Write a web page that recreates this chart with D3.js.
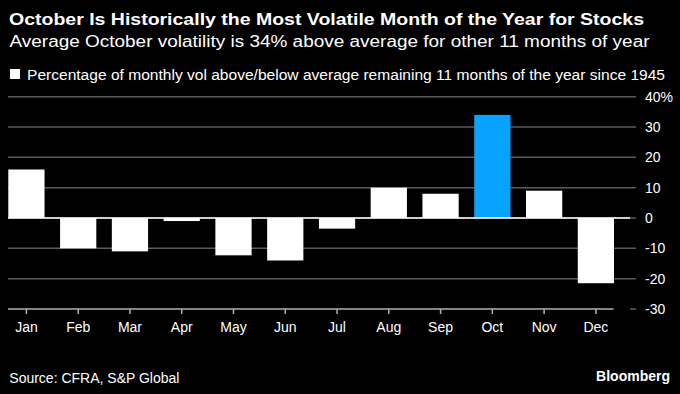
<!DOCTYPE html>
<html>
<head>
    <script src="https://cdn.jsdelivr.net/npm/d3@7"></script>
</head>
<body style="margin:0px; background:#000;">
    <svg id="chart" width="680" height="394"></svg>
    <script>
        // chart data
        var months = ["Jan","Feb","Mar","Apr","May","Jun","Jul","Aug","Sep","Oct","Nov","Dec"];
        var volAboveAvg = [16, -10, -11, -1, -12.3, -14, -3.5, 10, 8, 34, 9, -21.5];
        var yTicks = [40, 30, 20, 10, 0, -10, -20, -30];
        var highlight = "Oct";

        var title = "October Is Historically the Most Volatile Month of the Year for Stocks";
        var subtitle = "Average October volatility is 34% above average for other 11 months of year";
        var legendText = "Percentage of monthly vol above/below average remaining 11 months of the year since 1945";
        var source = "Source: CFRA, S&P Global";

        var font = "'Liberation Sans', Arial, sans-serif";
        var svg = d3.select("#chart").style("font-family", font);

        svg.append("rect").attr("width", 680).attr("height", 394).attr("fill", "#000");

        // header texts
        svg.append("text").attr("x", 9).attr("y", 25).attr("fill", "#fff")
            .attr("font-size", 17).attr("font-weight", "bold")
            .attr("textLength", 635).attr("lengthAdjust", "spacingAndGlyphs").text(title);
        svg.append("text").attr("x", 9.5).attr("y", 47).attr("fill", "#fff")
            .attr("font-size", 16)
            .attr("textLength", 640).attr("lengthAdjust", "spacingAndGlyphs").text(subtitle);
        svg.append("rect").attr("x", 10).attr("y", 69).attr("width", 10).attr("height", 10).attr("fill", "#fff");
        svg.append("text").attr("x", 27).attr("y", 80).attr("fill", "#fff")
            .attr("font-size", 14)
            .attr("textLength", 638).attr("lengthAdjust", "spacingAndGlyphs").text(legendText);

        // scales
        var x = d3.scaleBand().domain(months).range([8.3, 614]).paddingInner(0.3).paddingOuter(0);
        var y = d3.scaleLinear().domain([-30, 40]).range([309, 96.7]);

        var gridLeft = 8, gridRight = 636, zeroRight = 630;

        // gridlines
        svg.append("g").selectAll("line")
            .data(yTicks)
            .enter()
            .append("line")
            .attr("x1", d => d == -30 ? zeroRight : gridLeft)
            .attr("x2", gridRight)
            .attr("y1", d => y(d))
            .attr("y2", d => y(d))
            .style("stroke", "#5a5a5a")
            .style("stroke-width", "1.5px");

        // y labels on the right
        svg.append("g").selectAll("text")
            .data(yTicks)
            .enter()
            .append("text")
            .attr("x", 645)
            .attr("y", d => y(d))
            .attr("dy", "0.36em")
            .attr("fill", "#fff")
            .attr("font-size", 14)
            .text(d => d == 40 ? d + "%" : d);

        // bars
        svg.append("g").selectAll("rect")
            .data(months)
            .enter()
            .append("rect")
            .attr("x", d => x(d))
            .attr("width", x.bandwidth())
            .attr("y", (d,i) => y(Math.max(0, volAboveAvg[i])))
            .attr("height", (d,i) => Math.abs(y(volAboveAvg[i]) - y(0)))
            .style("fill", d => d == highlight ? "#08a3ff" : "#fff");

        // zero line
        svg.append("line")
            .attr("x1", gridLeft).attr("x2", zeroRight)
            .attr("y1", y(0)).attr("y2", y(0))
            .style("stroke", "#fff").style("stroke-width", "1.5px");

        // bottom axis
        var xAxis = d3.axisBottom(x).tickSize(5).tickPadding(8).tickSizeOuter(0);
        var ax = svg.append("g").attr("transform", "translate(0," + y(-30) + ")").call(xAxis);
        ax.select(".domain").attr("d", "M" + gridLeft + ",0H" + 613.5).style("stroke", "#b0b0b0").style("stroke-width", "1.5px");
        ax.selectAll(".tick line").style("stroke", "#b0b0b0").style("stroke-width", "1.5px");
        ax.selectAll(".tick text").attr("fill", "#fff").attr("font-size", 14).attr("font-family", font);

        // footer
        svg.append("text").attr("x", 9.3).attr("y", 383).attr("fill", "#fff")
            .attr("font-size", 14).text(source);
        svg.append("text").attr("x", 670).attr("y", 381).attr("fill", "#fff")
            .attr("font-size", 14).attr("font-weight", "bold").attr("text-anchor", "end").text("Bloomberg");
    </script>
</body>
</html>
